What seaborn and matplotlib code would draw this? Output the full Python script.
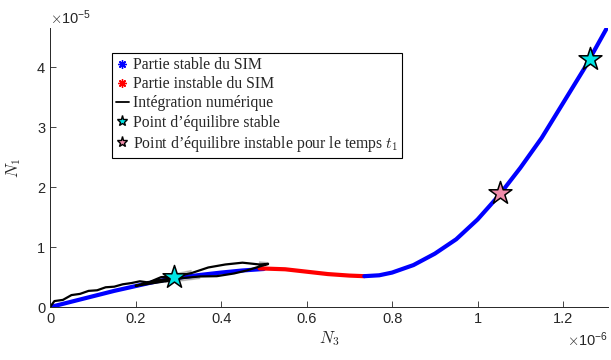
import numpy as np
import pandas as pd
import matplotlib.pyplot as plt
import seaborn as sns
from matplotlib.lines import Line2D
from matplotlib.ticker import ScalarFormatter

# values: N3 in units of 1e-6, N1 in units of 1e-5
stable_low_n3 = [0, 0.05, 0.1, 0.15, 0.2, 0.25, 0.3, 0.35, 0.4, 0.45, 0.5]
stable_low_n1 = [0, 0.09, 0.18, 0.27, 0.35, 0.43, 0.49, 0.535, 0.575, 0.61, 0.635]

unstable_n3 = [0.49, 0.55, 0.6, 0.65, 0.7, 0.735]
unstable_n1 = [0.645, 0.63, 0.59, 0.55, 0.525, 0.515]

stable_high_n3 = [0.735, 0.77, 0.8, 0.85, 0.9, 0.95, 1.0, 1.05, 1.1, 1.15, 1.2, 1.25, 1.302]
stable_high_n1 = [0.515, 0.53, 0.575, 0.70, 0.89, 1.13, 1.46, 1.86, 2.32, 2.82, 3.40, 3.98, 4.645]

traj_n3 = [0, 0.01, 0.03, 0.05, 0.07, 0.09, 0.11, 0.13, 0.15, 0.17, 0.19, 0.21,
           0.23, 0.26, 0.29, 0.33, 0.37, 0.41, 0.45, 0.49, 0.51, 0.51, 0.49,
           0.46, 0.43, 0.39, 0.35, 0.31, 0.27, 0.23, 0.20, 0.23, 0.27, 0.31,
           0.35, 0.33, 0.29, 0.25, 0.28, 0.31, 0.29]
traj_n1 = [0, 0.1, 0.12, 0.2, 0.22, 0.27, 0.28, 0.33, 0.34, 0.38, 0.40, 0.43,
           0.45, 0.50, 0.55, 0.61, 0.66, 0.71, 0.74, 0.755, 0.74, 0.70, 0.665,
           0.61, 0.56, 0.515, 0.475, 0.44, 0.41, 0.38, 0.355, 0.40, 0.45, 0.50,
           0.545, 0.52, 0.48, 0.44, 0.475, 0.51, 0.495]

eq_stable_n3 = [0.291, 1.262]
eq_stable_n1 = [0.495, 4.128]
eq_unstable_n3 = [1.053]
eq_unstable_n1 = [1.895]

sx, sy = 1e-6, 1e-5

sns.set_style("white")
plt.rcParams['mathtext.fontset'] = 'cm'
plt.rcParams['font.family'] = ['Liberation Sans', 'DejaVu Sans']
plt.rcParams['lines.solid_joinstyle'] = 'round'
plt.rcParams['lines.solid_capstyle'] = 'round'

fig = plt.figure(figsize=(6.11, 3.6), dpi=100)
ax = fig.add_axes([0.082, 0.147, 0.913, 0.775])

def seg(n3, n1):
    return pd.DataFrame({"N3": np.array(n3) * sx, "N1": np.array(n1) * sy})

sns.lineplot(data=seg(stable_low_n3, stable_low_n1), x="N3", y="N1", sort=False,
             color="#0000ff", linewidth=3, ax=ax)
sns.lineplot(data=seg(unstable_n3, unstable_n1), x="N3", y="N1", sort=False,
             color="#ff0000", linewidth=3, ax=ax)
sns.lineplot(data=seg(stable_high_n3, stable_high_n1), x="N3", y="N1", sort=False,
             color="#0000ff", linewidth=3, ax=ax)
sns.lineplot(data=seg(traj_n3, traj_n1), x="N3", y="N1", sort=False,
             color="black", linewidth=1.6, ax=ax)
sns.scatterplot(data=seg(eq_stable_n3, eq_stable_n1), x="N3", y="N1", marker="*",
                s=300, color="#00e5e5", edgecolor="black", linewidth=1.1, zorder=5, ax=ax)
sns.scatterplot(data=seg(eq_unstable_n3, eq_unstable_n1), x="N3", y="N1", marker="*",
                s=300, color="#f08caa", edgecolor="black", linewidth=1.1, zorder=5, ax=ax)


class PlainSci(ScalarFormatter):
    def _set_format(self):
        self.format = "%g"


ax.set_xlim(0, 1.305e-6)
ax.set_ylim(0, 4.65e-5)
ax.set_xticks(np.arange(0, 1.21, 0.2) * sx)
ax.set_yticks(np.arange(0, 4.1, 1) * sy)
for axis in (ax.xaxis, ax.yaxis):
    fmt = PlainSci(useMathText=True)
    fmt.set_powerlimits((0, 0))
    axis.set_major_formatter(fmt)
ax.tick_params(direction="in", length=4, width=0.6, labelsize=10.5, color="#262626",
               labelcolor="#262626", top=False, right=False, bottom=True, left=True)
ax.xaxis.get_offset_text().set_fontsize(10.5)
ax.yaxis.get_offset_text().set_fontsize(10.5)
sns.despine(ax=ax)
for sp in ("left", "bottom"):
    ax.spines[sp].set_color("#262626")
    ax.spines[sp].set_linewidth(0.7)

ax.set_xlabel("$N_3$", fontsize=12, labelpad=2)
ax.set_ylabel("$N_1$", fontsize=12, labelpad=10)

handles = [
    Line2D([], [], linestyle="none", marker=(8, 2, 0), color="#0000ff", markersize=6),
    Line2D([], [], linestyle="none", marker=(8, 2, 0), color="#ff0000", markersize=6),
    Line2D([], [], color="black", linewidth=1.3),
    Line2D([], [], linestyle="none", marker="*", markerfacecolor="#00e5e5",
           markeredgecolor="black", markersize=8),
    Line2D([], [], linestyle="none", marker="*", markerfacecolor="#f08caa",
           markeredgecolor="black", markersize=8),
]
labels = ["Partie stable du SIM", "Partie instable du SIM", "Intégration numérique",
          "Point d’équilibre stable", "Point d’équilibre instable pour le temps $t_1$"]
leg = ax.legend(handles, labels, loc="upper left", bbox_to_anchor=(0.111, 0.91),
                borderaxespad=0, fancybox=False, edgecolor="black", framealpha=1,
                handlelength=0.8, handletextpad=0.3, borderpad=0.25, labelspacing=0.2,
                prop={"family": "Liberation Serif", "size": 11.3})
leg.get_frame().set_linewidth(0.8)

fig.savefig("out.png", dpi=100)
